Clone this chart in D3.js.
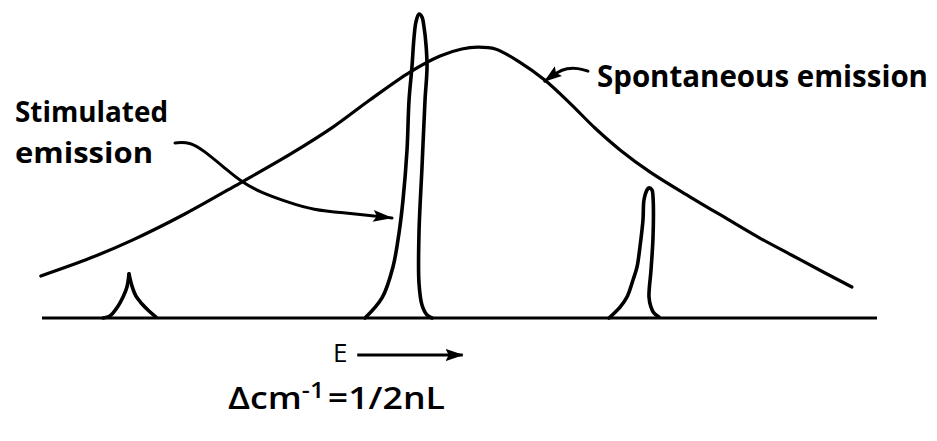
<!DOCTYPE html>
<html>
<head>
<meta charset="utf-8">
<script src="https://cdn.jsdelivr.net/npm/d3@7"></script>
<style>
  html, body { margin: 0; padding: 0; background: #fff; }
  svg { display: block; }
  text { font-family: "Open Sans", "DejaVu Sans", sans-serif; fill: #000; }
</style>
</head>
<body>
<script>
// Photon energy (arbitrary units, 0–100) and intensity (tall mode peak = 100)
const energyDomain = [0, 100];
const intensityDomain = [0, 100];

// Broad spontaneous-emission envelope
const spontaneous = [
  [0.1, 13.8], [6.0, 19.7], [11.1, 25.7], [17.3, 34.2], [23.9, 44.4],
  [29.9, 53.9], [35.0, 62.8], [39.4, 71.7], [44.2, 80.9], [47.8, 86.2],
  [50.4, 88.5], [52.3, 89.1], [54.4, 88.5], [57.3, 84.2], [60.3, 78.3],
  [63.3, 70.7], [66.3, 62.5], [69.3, 55.3], [72.9, 48.0], [77.7, 39.8],
  [82.1, 32.6], [86.0, 26.3], [90.0, 20.4], [93.8, 14.8], [97.0, 10.2]
];

// Weak cavity mode on the low-energy side (cusp: two flanks)
const modeLowRise = [
  [7.53, 0], [8.36, 0.7], [9.32, 3.9], [9.92, 6.9], [10.39, 10.2], [10.63, 14.5]
];
const modeLowFall = [
  [10.63, 14.5], [10.99, 10.5], [11.47, 7.2], [12.19, 4.6], [13.02, 2.3], [13.86, 0.3]
];

// Dominant lasing mode (stimulated emission)
const modeMain = [
  [38.83, 0], [40.86, 6.6], [42.17, 16.8], [42.89, 27.9], [43.37, 38.8],
  [43.85, 55.3], [44.09, 71.7], [44.44, 82.6], [44.68, 92.1], [44.92, 97.4],
  [45.28, 100], [45.64, 99.0], [45.88, 95.7], [46.12, 89.8], [46.24, 82.6],
  [46.0, 71.7], [45.64, 49.7], [45.28, 28.0], [45.28, 11.5], [45.64, 4.3],
  [46.24, 1.0], [46.83, 0]
];

// Secondary mode on the high-energy side
const modeHigh = [
  [67.98, 0], [69.30, 3.6], [70.13, 6.9], [70.85, 12.5], [71.33, 16.8],
  [71.68, 23.4], [72.04, 32.2], [72.16, 38.8], [72.52, 42.1], [72.76, 42.8],
  [73.12, 42.1], [73.24, 39.8], [73.24, 26.6], [73.00, 15.8], [72.76, 6.9],
  [73.00, 3.6], [73.36, 1.6], [73.96, 0.3]
];

// Energy axis extent
const axisLine = [[0.24, 0], [100, 0]];

// Annotation leaders (same energy/intensity units)
const stimulatedLeader = [
  [16.13, 57.6], [17.92, 57.9], [19.47, 55.3], [22.34, 48.7], [24.13, 44.7],
  [26.28, 41.4], [29.51, 38.2], [32.62, 35.5], [36.68, 34.5], [39.78, 33.6], [42.05, 32.9]
];
const spontaneousLeader = [
  [65.47, 81.2], [64.28, 82.2], [62.96, 82.2], [61.77, 80.9], [60.3, 77.9]
];
// Direction-of-increasing-energy arrow under the axis
const energyArrow = [37.9, 50.5];

// Text labels
const labelStimulated = ["Stimulated", "emission"];
const labelSpontaneous = "Spontaneous emission";
const labelEnergy = "E";
const labelSpacing = ["Δcm", "-1", "=1/2nL"];

const W = 937, H = 441;
const svg = d3.select("body").append("svg").attr("width", W).attr("height", H);

const x = d3.scaleLinear().domain(energyDomain).range([40, 877]);
const y = d3.scaleLinear().domain(intensityDomain).range([318, 14]);

const smooth = d3.line().x(d => x(d[0])).y(d => y(d[1])).curve(d3.curveCatmullRom.alpha(0.5));
const straight = d3.line().x(d => x(d[0])).y(d => y(d[1]));
const loose = d3.line().x(d => x(d[0])).y(d => y(d[1])).curve(d3.curveBasis);

const defs = svg.append("defs");
defs.append("marker")
  .attr("id", "head-long").attr("markerUnits", "userSpaceOnUse")
  .attr("viewBox", "0 -7 20 14").attr("refX", 19).attr("refY", 0)
  .attr("markerWidth", 20).attr("markerHeight", 14).attr("orient", "auto")
  .append("path").attr("d", "M0,-6L20,0L0,6L4,0Z").attr("fill", "#000");
defs.append("marker")
  .attr("id", "head-short").attr("markerUnits", "userSpaceOnUse")
  .attr("viewBox", "0 -7 18 14").attr("refX", 17).attr("refY", 0)
  .attr("markerWidth", 18).attr("markerHeight", 14).attr("orient", "auto")
  .append("path").attr("d", "M0,-6L18,0L0,6L3,0Z").attr("fill", "#000");

// Axis
svg.append("path").attr("d", straight(axisLine))
  .attr("fill", "none").attr("stroke", "#000").attr("stroke-width", 3);

// Envelope
svg.append("path").attr("d", smooth(spontaneous))
  .attr("fill", "none").attr("stroke", "#000").attr("stroke-width", 3.2)
  .attr("stroke-linecap", "round");

// Cavity modes
[modeLowRise, modeLowFall, modeMain, modeHigh].forEach(m => {
  svg.append("path").attr("d", smooth(m))
    .attr("fill", "none").attr("stroke", "#000").attr("stroke-width", 3.6)
    .attr("stroke-linecap", "round").attr("stroke-linejoin", "round");
});

// Leaders
svg.append("path").attr("d", loose(stimulatedLeader))
  .attr("fill", "none").attr("stroke", "#000").attr("stroke-width", 3)
  .attr("stroke-linecap", "round").attr("marker-end", "url(#head-long)");
svg.append("path").attr("d", loose(spontaneousLeader))
  .attr("fill", "none").attr("stroke", "#000").attr("stroke-width", 3)
  .attr("stroke-linecap", "round").attr("marker-end", "url(#head-short)");

// Labels
svg.append("text").attr("x", 15).attr("y", 122)
  .attr("font-size", 28).attr("font-weight", 700)
  .attr("textLength", 153).attr("lengthAdjust", "spacingAndGlyphs")
  .text(labelStimulated[0]);
svg.append("text").attr("x", 15).attr("y", 163)
  .attr("font-size", 28).attr("font-weight", 700)
  .attr("textLength", 138).attr("lengthAdjust", "spacingAndGlyphs")
  .text(labelStimulated[1]);
svg.append("text").attr("x", 597).attr("y", 87)
  .attr("font-size", 30).attr("font-weight", 700)
  .attr("textLength", 331).attr("lengthAdjust", "spacingAndGlyphs")
  .text(labelSpontaneous);

// Energy direction label below the axis
const eY = 355;
svg.append("text").attr("x", 333).attr("y", 362)
  .attr("font-size", 26).attr("font-weight", 400)
  .text(labelEnergy);
svg.append("line")
  .attr("x1", x(energyArrow[0])).attr("x2", x(energyArrow[1])).attr("y1", eY).attr("y2", eY)
  .attr("stroke", "#000").attr("stroke-width", 3).attr("marker-end", "url(#head-short)");

// Mode spacing relation
const f = svg.append("text").attr("x", 228).attr("y", 409)
  .attr("font-size", 30).attr("font-weight", 600)
  .attr("textLength", 217).attr("lengthAdjust", "spacingAndGlyphs");
f.append("tspan").text(labelSpacing[0]);
f.append("tspan").attr("dy", -11).attr("font-size", 21).text(labelSpacing[1]);
f.append("tspan").attr("dy", 11).attr("dx", 3).text(labelSpacing[2]);
</script>
</body>
</html>
